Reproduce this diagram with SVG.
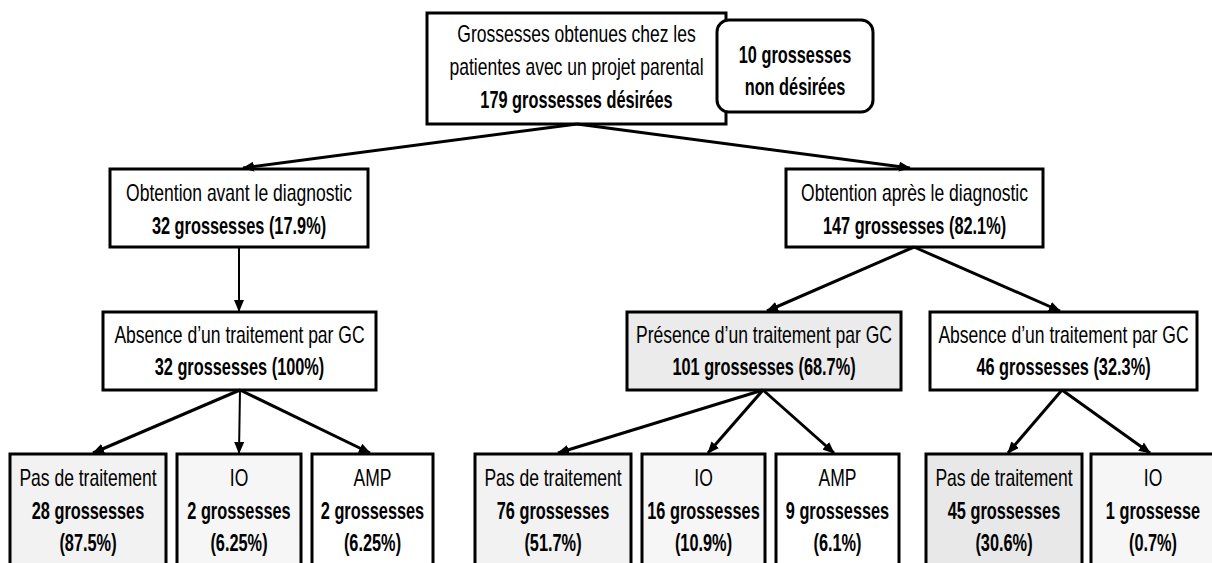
<svg xmlns="http://www.w3.org/2000/svg" width="1212" height="563" viewBox="0 0 1212 563">
<defs>
<style>
.box{stroke:#000;stroke-width:3;fill:#fff}
.g1{fill:#f2f2f2}
.g2{fill:#f6f6f6}
.g3{fill:#e8e8e8}
.g4{fill:#ebebeb}
text{font-family:"Liberation Sans",Arial,sans-serif;font-size:24px;fill:#000;text-anchor:middle}
.b{font-weight:bold}
.con line{stroke:#000;stroke-width:3;marker-end:url(#ah)}
.con line.thin{stroke-width:2}
</style>
<marker id="ah" markerUnits="userSpaceOnUse" markerWidth="12" markerHeight="10" viewBox="0 0 12 10" refX="11" refY="5" orient="auto">
<path d="M0,0 L12,5 L0,10 z" fill="#000"/>
</marker>
</defs>
<rect width="1212" height="563" fill="#fff"/>

<g id="top">
<rect class="box" x="427" y="13" width="299" height="111"/>
<text transform="translate(576.5 42) scale(0.73 1)">Grossesses obtenues chez les</text>
<text transform="translate(576.5 75) scale(0.73 1)">patientes avec un projet parental</text>
<text class="b" transform="translate(576.5 108) scale(0.68 1)">179 grossesses désirées</text>
</g>

<g id="nondesirees">
<rect class="box" x="717" y="20" width="156" height="92" rx="12" ry="12"/>
<text class="b" transform="translate(795 63) scale(0.68 1)">10 grossesses</text>
<text class="b" transform="translate(795 95) scale(0.68 1)">non désirées</text>
</g>

<g id="avant">
<rect class="box" x="110" y="169" width="258" height="78"/>
<text transform="translate(239 201) scale(0.73 1)">Obtention avant le diagnostic</text>
<text class="b" transform="translate(239 234) scale(0.68 1)">32 grossesses (17.9%)</text>
</g>

<g id="apres">
<rect class="box" x="786" y="169" width="257" height="78"/>
<text transform="translate(914.5 201) scale(0.73 1)">Obtention après le diagnostic</text>
<text class="b" transform="translate(914.5 234) scale(0.68 1)">147 grossesses (82.1%)</text>
</g>

<g id="absence1">
<rect class="box" x="103" y="312" width="273" height="78"/>
<text transform="translate(239.5 343) scale(0.73 1)">Absence d’un traitement par GC</text>
<text class="b" transform="translate(239.5 375) scale(0.68 1)">32 grossesses (100%)</text>
</g>

<g id="presence">
<rect class="box g4" x="627" y="312" width="274" height="78"/>
<text transform="translate(764 343) scale(0.73 1)">Présence d’un traitement par GC</text>
<text class="b" transform="translate(764 375) scale(0.68 1)">101 grossesses (68.7%)</text>
</g>

<g id="absence2">
<rect class="box" x="930" y="312" width="267" height="78"/>
<text transform="translate(1063.5 343) scale(0.73 1)">Absence d’un traitement par GC</text>
<text class="b" transform="translate(1063.5 375) scale(0.68 1)">46 grossesses (32.3%)</text>
</g>

<g id="b1">
<rect class="box g1" x="10" y="454" width="156" height="125"/>
<text transform="translate(88 486) scale(0.73 1)">Pas de traitement</text>
<text class="b" transform="translate(88 519) scale(0.68 1)">28 grossesses</text>
<text class="b" transform="translate(88 551) scale(0.68 1)">(87.5%)</text>
</g>

<g id="b2">
<rect class="box g2" x="177" y="454" width="124" height="125"/>
<text transform="translate(239 486) scale(0.73 1)">IO</text>
<text class="b" transform="translate(239 519) scale(0.68 1)">2 grossesses</text>
<text class="b" transform="translate(239 551) scale(0.68 1)">(6.25%)</text>
</g>

<g id="b3">
<rect class="box" x="312" y="454" width="121" height="125"/>
<text transform="translate(372.5 486) scale(0.73 1)">AMP</text>
<text class="b" transform="translate(372.5 519) scale(0.68 1)">2 grossesses</text>
<text class="b" transform="translate(372.5 551) scale(0.68 1)">(6.25%)</text>
</g>

<g id="b4">
<rect class="box g1" x="475" y="454" width="156" height="125"/>
<text transform="translate(553 486) scale(0.73 1)">Pas de traitement</text>
<text class="b" transform="translate(553 519) scale(0.68 1)">76 grossesses</text>
<text class="b" transform="translate(553 551) scale(0.68 1)">(51.7%)</text>
</g>

<g id="b5">
<rect class="box g2" x="642" y="454" width="123" height="125"/>
<text transform="translate(703.5 486) scale(0.73 1)">IO</text>
<text class="b" transform="translate(703.5 519) scale(0.68 1)">16 grossesses</text>
<text class="b" transform="translate(703.5 551) scale(0.68 1)">(10.9%)</text>
</g>

<g id="b6">
<rect class="box" x="776" y="454" width="123" height="125"/>
<text transform="translate(837.5 486) scale(0.73 1)">AMP</text>
<text class="b" transform="translate(837.5 519) scale(0.68 1)">9 grossesses</text>
<text class="b" transform="translate(837.5 551) scale(0.68 1)">(6.1%)</text>
</g>

<g id="b7">
<rect class="box g3" x="926" y="454" width="156" height="125"/>
<text transform="translate(1004 486) scale(0.73 1)">Pas de traitement</text>
<text class="b" transform="translate(1004 519) scale(0.68 1)">45 grossesses</text>
<text class="b" transform="translate(1004 551) scale(0.68 1)">(30.6%)</text>
</g>

<g id="b8">
<rect class="box g2" x="1091" y="454" width="130" height="125"/>
<text transform="translate(1153 486) scale(0.73 1)">IO</text>
<text class="b" transform="translate(1153 519) scale(0.68 1)">1 grossesse</text>
<text class="b" transform="translate(1153 551) scale(0.68 1)">(0.7%)</text>
</g>

<g id="connectors" class="con">
<line x1="577" y1="124" x2="243" y2="168"/>
<line x1="577" y1="124" x2="910" y2="168"/>
<line class="thin" x1="239" y1="247" x2="239" y2="311"/>
<line x1="914" y1="247" x2="767" y2="311"/>
<line x1="914" y1="247" x2="1060" y2="311"/>
<line x1="240" y1="390" x2="93" y2="453"/>
<line class="thin" x1="240" y1="390" x2="239" y2="453"/>
<line x1="240" y1="390" x2="370" y2="453"/>
<line x1="763" y1="390" x2="558" y2="453"/>
<line x1="763" y1="390" x2="708" y2="453"/>
<line x1="763" y1="390" x2="834" y2="453"/>
<line x1="1062" y1="390" x2="1008" y2="453"/>
<line x1="1062" y1="390" x2="1150" y2="453"/>
</g>
</svg>
